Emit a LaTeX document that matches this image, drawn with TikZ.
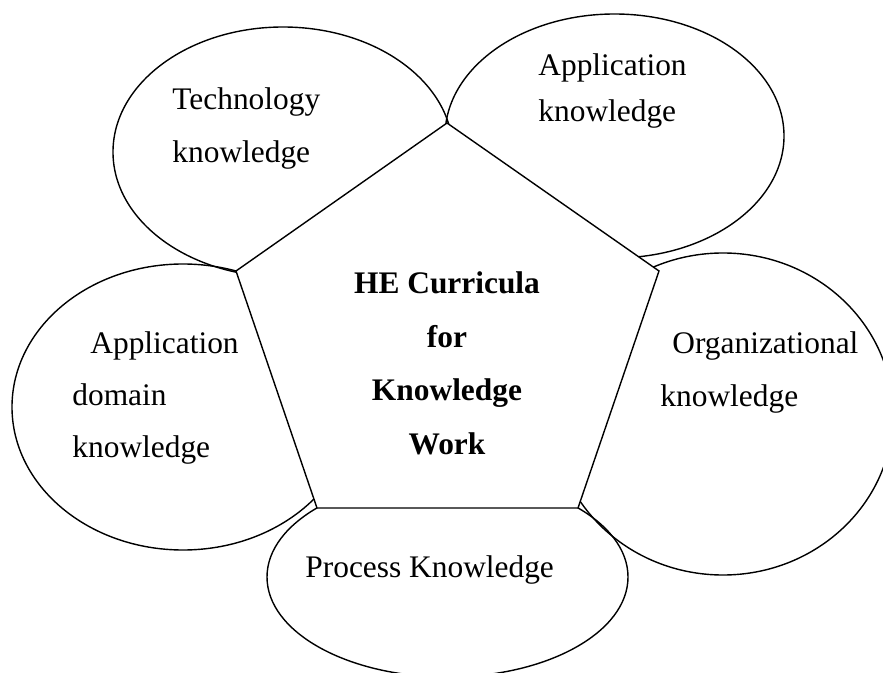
\documentclass[tikz,border=0pt]{standalone}
\usepackage{fontspec}
\setmainfont{Liberation Serif}
\usetikzlibrary{shapes.geometric}

\begin{document}
\begin{tikzpicture}[
    x=0.5pt, y=-0.5pt,
    bubble/.style={ellipse, draw, line width=0.7pt, inner sep=0pt},
    bubbletext/.style={anchor=base west, align=left, inner sep=0pt, font=\fontsize{15.7}{26.6}\selectfont},
    hub/.style={draw, fill=white, line width=0.7pt, line join=miter}
]

    % Frame
    \clip (0,0) rectangle (883,673);

    % Knowledge areas
    \node [bubble, minimum width=170pt, minimum height=125pt] (tech) at (283,152) {};
    \node [bubble, minimum width=169.5pt, minimum height=122pt] (appk) at (614.5,136) {};
    \node [bubble, minimum width=170pt, minimum height=161pt] (org) at (723,414) {};
    \node [bubble, minimum width=171pt, minimum height=143pt] (domain) at (183,407) {};
    \node [bubble, minimum width=180.5pt, minimum height=100pt] (proc) at (447.5,577) {};

    % Pentagon in the middle
    \coordinate (top) at (447,123);
    \coordinate (upright) at (659,271);
    \coordinate (lowright) at (578,508);
    \coordinate (lowleft) at (317,508);
    \coordinate (upleft) at (236,271);
    \draw [hub] (top) -- (upright) -- (lowright) -- (lowleft) -- (upleft) -- cycle;

    % Texts (anchored at the baseline of their last line)
    \node [bubbletext] (techtext) at (172,163) {Technology\\knowledge};
    \node [bubbletext, font=\fontsize{15.7}{23}\selectfont] (appktext) at (538,122) {Application\\knowledge};
    \node [bubbletext] (orgtext) at (660,407) {\hspace{6pt}Organizational\\knowledge};
    \node [bubbletext, font=\fontsize{15.7}{26.2}\selectfont] (domaintext) at (72,458) {\hspace{9pt}Application\\domain\\knowledge};
    \node [bubbletext] (proctext) at (305,577) {Process Knowledge};
    \node [anchor=base, align=center, inner sep=0pt, font=\fontsize{15.7}{26.7}\selectfont\bfseries] (hubtext) at (447,454) {HE Curricula\\for\\Knowledge\\Work};

\end{tikzpicture}
\end{document}
